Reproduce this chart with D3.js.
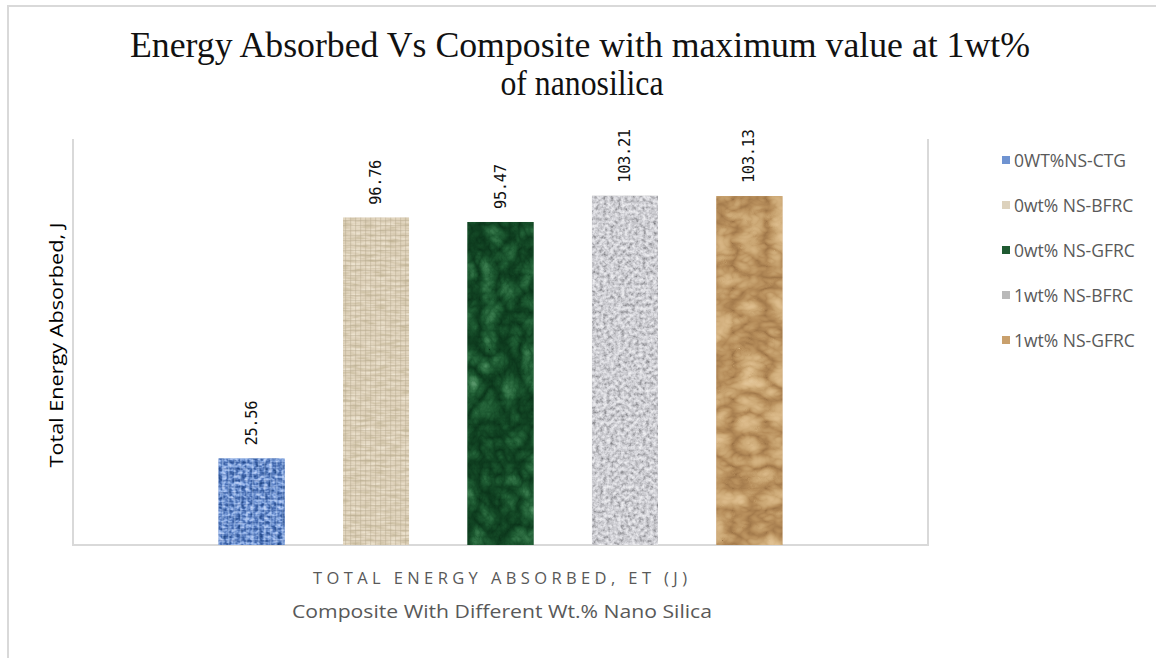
<!DOCTYPE html>
<html>
<head>
<meta charset="utf-8">
<script src="https://cdn.jsdelivr.net/npm/d3@7/dist/d3.min.js"></script>
<style>
  html, body { margin: 0; padding: 0; background: #fff; }
  svg { display: block; }
</style>
</head>
<body>
<svg id="chart" width="1156" height="658"></svg>
<script>
// Composites and their total absorbed energy (J)
const composites = ["0WT%NS-CTG", "0wt% NS-BFRC", "0wt% NS-GFRC", "1wt% NS-BFRC", "1wt% NS-GFRC"];
const energy = [25.56, 96.76, 95.47, 103.21, 103.13];
const valueLabels = ["25.56", "96.76", "95.47", "103.21", "103.13"];
const yDomain = [0, 120];

const titleLines = ["Energy Absorbed Vs Composite with maximum value at 1wt%", "of nanosilica"];
const yTitle = "Total Energy Absorbed, J";
const xTitle = "TOTAL ENERGY ABSORBED, ET (J)";
const xSubtitle = "Composite With Different Wt.% Nano Silica";

const W = 1156, H = 658;
const plot = { left: 73, right: 928, top: 139, bottom: 545 };

const svg = d3.select("#chart");
const defs = svg.append("defs");

// Texture fills: coloured noise clipped to each shape
function noiseFilter(id, type, freq, octaves, seed, rTable, gTable, bTable) {
  const f = defs.append("filter").attr("id", id)
    .attr("x", 0).attr("y", 0).attr("width", 1).attr("height", 1)
    .attr("color-interpolation-filters", "sRGB");
  f.append("feTurbulence").attr("type", type).attr("baseFrequency", freq)
    .attr("numOctaves", octaves).attr("seed", seed).attr("result", "noise");
  f.append("feColorMatrix").attr("in", "noise").attr("type", "matrix")
    .attr("values", "1 0 0 0 0  1 0 0 0 0  1 0 0 0 0  0 0 0 0 1").attr("result", "mono");
  const ct = f.append("feComponentTransfer").attr("in", "mono").attr("result", "tint");
  ct.append("feFuncR").attr("type", "table").attr("tableValues", rTable);
  ct.append("feFuncG").attr("type", "table").attr("tableValues", gTable);
  ct.append("feFuncB").attr("type", "table").attr("tableValues", bTable);
  f.append("feComposite").attr("in", "tint").attr("in2", "SourceGraphic").attr("operator", "in");
  return "url(#" + id + ")";
}

// blue woven cloth
const blueF = noiseFilter("tex0", "fractalNoise", "0.22 0.28", 2, 3,
  "0.05 0.15 0.30 0.55 0.75 0.85", "0.20 0.30 0.45 0.68 0.82 0.90", "0.45 0.55 0.72 0.90 0.97 1.0");
// beige burlap
const beigeF = noiseFilter("tex1", "fractalNoise", "0.08 0.35", 2, 7,
  "0.76 0.82 0.88 0.92 0.95", "0.70 0.77 0.83 0.88 0.92", "0.58 0.66 0.74 0.80 0.86");
// green marble
const greenF = noiseFilter("tex2", "turbulence", "0.05 0.04", 4, 11,
  "0.04 0.07 0.12 0.22 0.38", "0.20 0.27 0.36 0.48 0.62", "0.10 0.14 0.20 0.30 0.45");
// grey granite
const greyF = noiseFilter("tex3", "fractalNoise", "0.28", 3, 5,
  "0.45 0.60 0.75 0.86 0.93 0.97", "0.45 0.60 0.75 0.86 0.93 0.97", "0.47 0.62 0.77 0.88 0.94 0.98");
// crumpled kraft paper
const paperF = noiseFilter("tex4", "turbulence", "0.03 0.045", 3, 19,
  "0.62 0.72 0.80 0.86 0.90 0.93", "0.46 0.56 0.66 0.73 0.79 0.83", "0.28 0.36 0.46 0.54 0.62 0.68");
const fills = [blueF, beigeF, greenF, greyF, paperF];
const baseColors = ["#6f93d1", "#ddd2bd", "#1f5a32", "#b9b9b9", "#c9a06c"];

// cloth weave overlays
const grid = defs.append("pattern").attr("id", "weave").attr("patternUnits", "userSpaceOnUse")
  .attr("width", 5).attr("height", 5);
grid.append("rect").attr("width", 5).attr("height", 1.2).attr("fill", "#b5a78b").attr("opacity", 0.4);
grid.append("rect").attr("width", 1.2).attr("height", 5).attr("fill", "#b5a78b").attr("opacity", 0.4);
const weaveB = defs.append("pattern").attr("id", "weaveBlue").attr("patternUnits", "userSpaceOnUse")
  .attr("width", 6).attr("height", 6);
weaveB.append("rect").attr("width", 6).attr("height", 1.5).attr("fill", "#23478f").attr("opacity", 0.35);
weaveB.append("rect").attr("width", 1.5).attr("height", 6).attr("fill", "#c9dcf7").attr("opacity", 0.3);

// Page frame
svg.append("line").attr("x1", 7).attr("x2", W).attr("y1", 6).attr("y2", 6)
  .attr("stroke", "#d9d9d9").attr("stroke-width", 2);
svg.append("line").attr("x1", 8).attr("x2", 8).attr("y1", 6).attr("y2", H)
  .attr("stroke", "#d9d9d9").attr("stroke-width", 2);

// Scales
const x = d3.scaleBand().domain(composites).range([plot.left, plot.right])
  .paddingInner(0.47).paddingOuter(1.17);
const y = d3.scaleLinear().domain(yDomain).range([plot.bottom, plot.top]);

// Plot area outline (left, bottom, right)
svg.append("path")
  .attr("d", `M${plot.left},${plot.top}V${plot.bottom}H${plot.right}V${plot.top}`)
  .attr("fill", "none").attr("stroke", "#d9d9d9").attr("stroke-width", 2);

// Bars
const data = composites.map((c, i) => ({ name: c, value: energy[i], label: valueLabels[i], i }));
const bars = svg.append("g");
bars.selectAll("rect.base").data(data).join("rect").attr("class", "base")
  .attr("x", d => x(d.name)).attr("width", x.bandwidth())
  .attr("y", d => y(d.value)).attr("height", d => y(0) - y(d.value))
  .attr("fill", d => baseColors[d.i]);
bars.selectAll("rect.tex").data(data).join("rect").attr("class", "tex")
  .attr("x", d => x(d.name)).attr("width", x.bandwidth())
  .attr("y", d => y(d.value)).attr("height", d => y(0) - y(d.value))
  .attr("fill", "#000").attr("filter", d => fills[d.i]);
bars.selectAll("rect.weave").data(data.filter(d => d.i < 2)).join("rect").attr("class", "weave")
  .attr("x", d => x(d.name)).attr("width", x.bandwidth())
  .attr("y", d => y(d.value)).attr("height", d => y(0) - y(d.value))
  .attr("fill", d => d.i === 0 ? "url(#weaveBlue)" : "url(#weave)");

// Value labels, rotated
svg.append("g").selectAll("text").data(data).join("text")
  .attr("transform", d => `translate(${x(d.name) + x.bandwidth() / 2 + 5},${y(d.value) - 13}) rotate(-90)`)
  .attr("text-anchor", "start")
  .attr("font-family", "DejaVu Sans Mono, monospace")
  .attr("font-size", 15.5).attr("fill", "#111")
  .attr("letter-spacing", -0.4)
  .text(d => d.label);

// Title, tall and narrow serif
const title = svg.append("g").attr("font-family", "Liberation Serif, serif").attr("fill", "#111");
title.append("text").attr("x", 580).attr("y", 57).attr("text-anchor", "middle")
  .attr("font-size", 35).attr("textLength", 900).attr("lengthAdjust", "spacingAndGlyphs")
  .text(titleLines[0]);
title.append("text").attr("x", 582).attr("y", 95).attr("text-anchor", "middle")
  .attr("font-size", 35).attr("textLength", 163).attr("lengthAdjust", "spacingAndGlyphs")
  .text(titleLines[1]);

// Axis titles
svg.append("text")
  .attr("transform", `translate(63,345) rotate(-90)`)
  .attr("text-anchor", "middle").attr("font-family", "Open Sans, sans-serif")
  .attr("font-size", 18).attr("fill", "#000")
  .attr("textLength", 245).attr("lengthAdjust", "spacingAndGlyphs")
  .text(yTitle);
svg.append("text").attr("x", 500).attr("y", 584).attr("text-anchor", "middle")
  .attr("font-family", "Open Sans, sans-serif").attr("font-size", 16.5).attr("fill", "#595959")
  .attr("textLength", 374).attr("lengthAdjust", "spacing")
  .text(xTitle);
svg.append("text").attr("x", 502).attr("y", 618).attr("text-anchor", "middle")
  .attr("font-family", "Open Sans, sans-serif").attr("font-size", 18.5).attr("fill", "#595959")
  .attr("textLength", 420).attr("lengthAdjust", "spacingAndGlyphs")
  .text(xSubtitle);

// Legend
const legend = svg.append("g");
const legendY = d3.scaleLinear().domain([0, composites.length - 1]).range([160, 340]);
const item = legend.selectAll("g").data(data).join("g")
  .attr("transform", d => `translate(1002,${legendY(d.i)})`);
item.append("rect").attr("x", 0).attr("y", -4).attr("width", 8).attr("height", 8)
  .attr("fill", d => baseColors[d.i]);
item.append("text").attr("x", 12).attr("y", 6.5)
  .attr("font-family", "Open Sans, sans-serif").attr("font-size", 17.5).attr("fill", "#595959")
  .text(d => d.name);
</script>
</body>
</html>
